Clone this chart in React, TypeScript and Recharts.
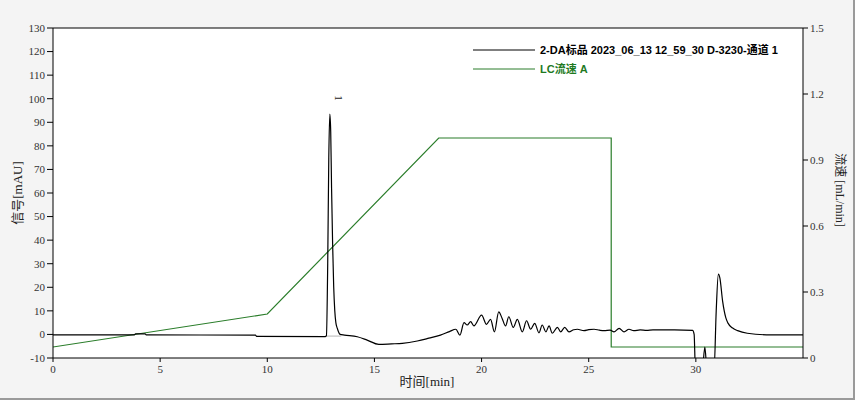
import React from 'react';
import {
  ComposedChart,
  Line,
  XAxis,
  YAxis,
  ReferenceDot,
  ReferenceLine,
  Customized,
} from 'recharts';

// ---- data ----
const signalTimes = [
  0, 3.8, 3.85, 4.3, 4.35, 9.45, 9.5, 12.7, 12.76, 12.82, 12.87, 12.92, 12.96, 13.0, 13.05, 13.1,
  13.15, 13.2, 13.27, 13.4, 13.6, 14.2, 14.66, 15.2, 15.8, 16.3, 17.0, 17.54, 18.08, 18.5, 18.8,
  18.99, 19.18, 19.33, 19.49, 19.64, 20.0, 20.23, 20.42, 20.6, 20.8, 20.96, 21.12, 21.27, 21.48,
  21.67, 21.9, 22.1, 22.29, 22.48, 22.68, 22.83, 23.0, 23.15, 23.3, 23.54, 23.69, 23.88, 24.08,
  24.3, 24.47, 24.78, 25.0, 25.25, 25.5, 25.72, 26.0, 26.18, 26.42, 26.65, 26.88, 27.1, 27.4,
  27.7, 28.0, 29.0, 29.85, 29.92, 29.98, 30.3, 30.42, 30.52, 30.85, 30.95, 31.05, 31.12, 31.25,
  31.4, 31.5, 31.7, 31.95, 32.4, 33.5, 35,
];
const signalValues = [
  -0.2, -0.2, 0.2, 0.2, -0.2, -0.3, -0.8, -0.9, -0.5, 30, 75, 93.5, 86, 62, 38, 20,
  10, 5, 2.5, 0, -0.3, -1, -2.4, -4.2, -4.0, -3.8, -2.8, -1.6, -0.3, 1.2, 2.2,
  -0.3, 5.0, 4.0, 5.4, 3.6, 8.2, 4.3, 6.4, 1.1, 9.6, 6.8, 3.6, 7.5, 3.0,
  6.4, 1.1, 5.8, 2.2, 4.7, 0.7, 4.0, 1.1, 3.6, 0.5, 3.0, 1.1, 3.0, 1.1,
  2.0, 2.2, 1.6, 2.0, 2.2, 1.8, 1.6, 1.8, 1.1, 2.6, 1.1, 2.2, 1.6, 1.9,
  1.7, 1.9, 1.9, 1.7, 0, -15, -15, -5.4, -15, -15, 10, 25.6, 24, 14,
  7, 4.8, 2.8, 1.6, 0.5, -0.2, -0.2,
];
const flowTimes = [0, 10, 18, 26.05, 26.05, 35];
const flowValues = [0.05, 0.2, 1.0, 1.0, 0.05, 0.05];
const baselineTimes = [12.76, 13.45];
const baselineValues = [-0.7, -0.7];

const xTicks = [0, 5, 10, 15, 20, 25, 30];
const leftTicks = [-10, 0, 10, 20, 30, 40, 50, 60, 70, 80, 90, 100, 110, 120, 130];
const rightTicks = [0, 0.3, 0.6, 0.9, 1.2, 1.5];

const peakTime = 12.92;
const peakValue = 93.5;
const peakName = '1';

const signalName = '2-DA标品 2023_06_13 12_59_30 D-3230-通道 1';
const flowName = 'LC流速 A';

const xTitle = '时间[min]';
const leftTitle = '信号[mAU]';
const rightTitle = '流速 [mL/min]';

const signalData = signalTimes.map((t, i) => ({ t, s: signalValues[i] }));
const flowData = flowTimes.map((t, i) => ({ t, f: flowValues[i] }));
const baselineData = baselineTimes.map((t, i) => ({ t, b: baselineValues[i] }));

const BLACK = '#000000';
const GREEN = '#2a7d2a';
const tickFont = { fontFamily: '"Liberation Serif", "Times New Roman", serif', fontSize: 11, fill: '#333' };

const legendItems = [
  { name: signalName, color: BLACK, text: '#000' },
  { name: flowName, color: GREEN, text: '#1f7a1f' },
];

const LegendBox = () => (
  <g transform="translate(473, 40)">
    {legendItems.map((it, i) => (
      <g key={i}>
        <line x1={0} x2={62} y1={10 + i * 19} y2={10 + i * 19} stroke={it.color} strokeWidth={1} />
        <text
          x={67}
          y={14 + i * 19}
          fill={it.text}
          style={{
            fontFamily: '"Liberation Sans", Arial, "Noto Sans CJK SC", sans-serif',
            fontWeight: 'bold',
            fontSize: 11,
          }}
        >
          {it.name}
        </text>
      </g>
    ))}
  </g>
);

const Titles = () => (
  <g style={{ fontFamily: '"Liberation Serif", "Noto Sans CJK SC", serif', fill: '#222' }}>
    <text x={427} y={386} textAnchor="middle" fontSize={13}>
      {xTitle}
    </text>
    <text x={22} y={193} textAnchor="middle" fontSize={13} transform="rotate(-90, 22, 193)">
      {leftTitle}
    </text>
    <text x={836} y={190} textAnchor="middle" fontSize={12} transform="rotate(90, 836, 190)">
      {rightTitle}
    </text>
  </g>
);

const PeakLabel = (props: any) => {
  const vb = props.viewBox || {};
  const x = (vb.x ?? 0) + 5;
  const y = (vb.y ?? 0) - 16;
  return (
    <text
      x={x}
      y={y}
      transform={`rotate(90, ${x}, ${y})`}
      textAnchor="middle"
      fontSize={11}
      fill="#222"
      style={{ fontFamily: '"Liberation Serif", serif' }}
    >
      {peakName}
    </text>
  );
};

export default function App() {
  return (
    <div
      style={{
        position: 'fixed',
        left: 0,
        top: 0,
        width: 853,
        height: 398,
        background: '#f4f4f4',
        borderRight: '2px solid #9a9a9a',
        borderBottom: '2px solid #9a9a9a',
      }}
    >
      <ComposedChart
        width={855}
        height={400}
        margin={{ top: 28, right: 0, bottom: 0, left: 0 }}
        style={{ position: 'absolute', left: 0, top: 0 }}
      >
        <Customized
          component={() => <rect x={53} y={28} width={750} height={330} fill="#ffffff" />}
        />
        <XAxis
          dataKey="t"
          type="number"
          domain={[0, 35]}
          ticks={xTicks}
          allowDataOverflow
          height={42}
          tickSize={4}
          tickMargin={3}
          tick={tickFont}
          stroke={BLACK}
          tickLine={{ stroke: BLACK }}
        />
        <YAxis
          yAxisId="left"
          domain={[-10, 130]}
          ticks={leftTicks}
          allowDataOverflow
          width={53}
          tickSize={6}
          tickMargin={2}
          tick={tickFont}
          stroke={BLACK}
          interval={0}
        />
        <YAxis
          yAxisId="right"
          orientation="right"
          domain={[0, 1.5]}
          ticks={rightTicks}
          allowDataOverflow
          width={52}
          tickSize={5}
          tickMargin={2}
          tick={tickFont}
          stroke={BLACK}
          interval={0}
        />
        <ReferenceLine yAxisId="left" y={130} stroke="#000" strokeWidth={1} />
        <Line
          yAxisId="right"
          data={flowData}
          dataKey="f"
          type="linear"
          stroke={GREEN}
          strokeWidth={1.2}
          dot={false}
          isAnimationActive={false}
          name={flowName}
        />
        <Line
          yAxisId="left"
          data={baselineData}
          dataKey="b"
          type="linear"
          stroke="#b5b5b5"
          strokeWidth={1}
          dot={false}
          isAnimationActive={false}
          legendType="none"
        />
        <Line
          yAxisId="left"
          data={signalData}
          dataKey="s"
          type="monotone"
          stroke={BLACK}
          strokeWidth={1.2}
          dot={false}
          isAnimationActive={false}
          name={signalName}
        />
        <ReferenceDot
          yAxisId="left"
          x={peakTime}
          y={peakValue}
          r={0}
          stroke="none"
          fill="none"
          label={<PeakLabel />}
        />
        <Customized component={() => <LegendBox />} />
        <Customized component={() => <Titles />} />
      </ComposedChart>
    </div>
  );
}
